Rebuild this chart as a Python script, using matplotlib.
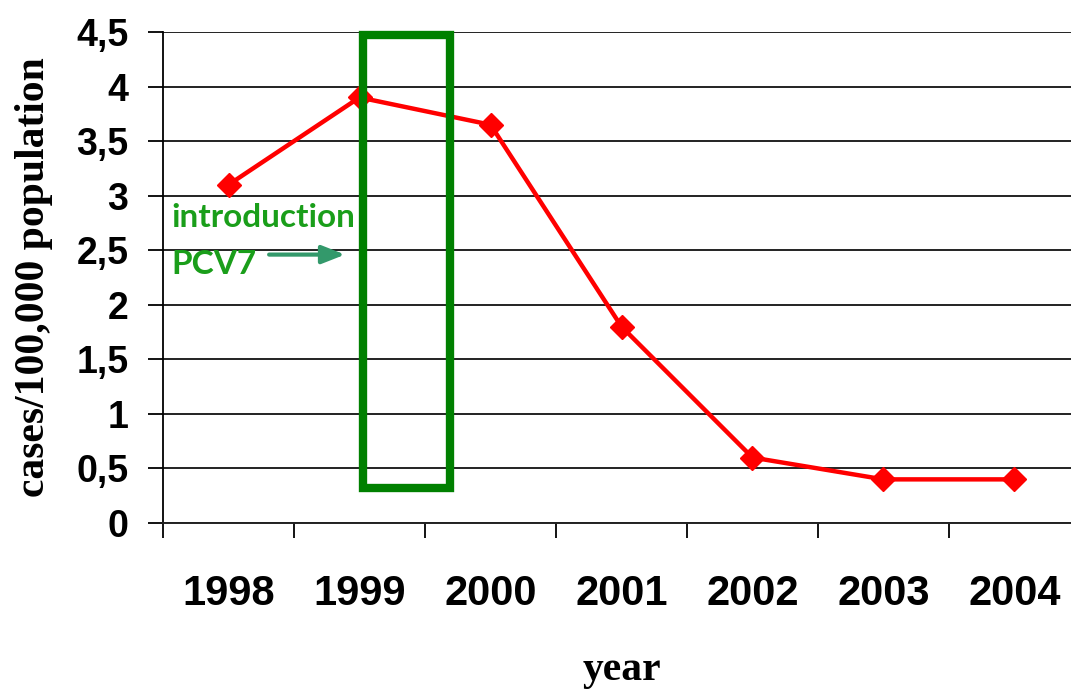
import numpy as np
import matplotlib
matplotlib.use('Agg')
import matplotlib.pyplot as plt
from matplotlib.patches import Rectangle

years = ['1998', '1999', '2000', '2001', '2002', '2003', '2004']
cases = [3.1, 3.9, 3.65, 1.8, 0.6, 0.4, 0.4]
yticks = [0, 0.5, 1, 1.5, 2, 2.5, 3, 3.5, 4, 4.5]
ytick_labels = ['0', '0,5', '1', '1,5', '2', '2,5', '3', '3,5', '4', '4,5']

fig = plt.figure(figsize=(10.71, 6.91), dpi=100)
ax = fig.add_axes([0.1522, 0.2431, 0.8562, 0.7106])

x = np.arange(len(years))
ax.plot(x, cases, color='red', lw=3.2, marker='D', ms=12, zorder=4)

ax.set_xlim(-0.5, len(years) - 0.5)
ax.set_ylim(0, 4.5)

ax.set_yticks(yticks)
ax.set_yticklabels(ytick_labels, fontsize=27, fontweight='bold',
                   family='Liberation Sans')
ax.set_xticks(x)
ax.set_xticklabels(years, fontsize=30, fontweight='bold',
                   family='Liberation Sans')
ax.set_xticks(np.arange(-0.5, len(years), 1), minor=True)

ax.tick_params(axis='y', direction='out', length=11, width=1.3,
               color='black', pad=14)
ax.tick_params(axis='x', which='major', length=0, pad=37)
ax.tick_params(axis='x', which='minor', direction='out', length=11,
               width=1.3, color='black')

ax.yaxis.grid(True, color='#222222', lw=1.4)
ax.set_axisbelow(True)
for s in ['top', 'right']:
    ax.spines[s].set_visible(False)
ax.spines['left'].set_linewidth(1.3)
ax.spines['bottom'].set_linewidth(1.4)
ax.spines['bottom'].set_color('#222222')

ax.set_ylabel('cases/100,000 population', fontsize=30, fontweight='bold',
              family='Liberation Serif')
ax.yaxis.set_label_coords(-0.12, 0.5)
ax.set_xlabel('year', fontsize=30, fontweight='bold',
              family='Liberation Serif', labelpad=26)

# introduction box and arrow
ax.add_patch(Rectangle((1.03, 0.32), 0.66, 4.15, fill=False,
                       edgecolor='#008000', lw=6, zorder=5, clip_on=False))
ax.text(-0.435, 2.80, 'introduction', color='#1a9e1a', fontsize=24,
        fontweight='bold', family='Lato', va='center', ha='left')
ax.text(-0.435, 2.37, 'PCV7', color='#1a9e1a', fontsize=24,
        fontweight='bold', family='Lato', va='center', ha='left')
ax.annotate('', xy=(0.89, 2.46), xytext=(0.31, 2.46),
            arrowprops=dict(arrowstyle='-|>,head_length=1.4,head_width=0.55',
                            color='#33996b', lw=3, shrinkA=0, shrinkB=0))

fig.savefig('out.png', dpi=100)
